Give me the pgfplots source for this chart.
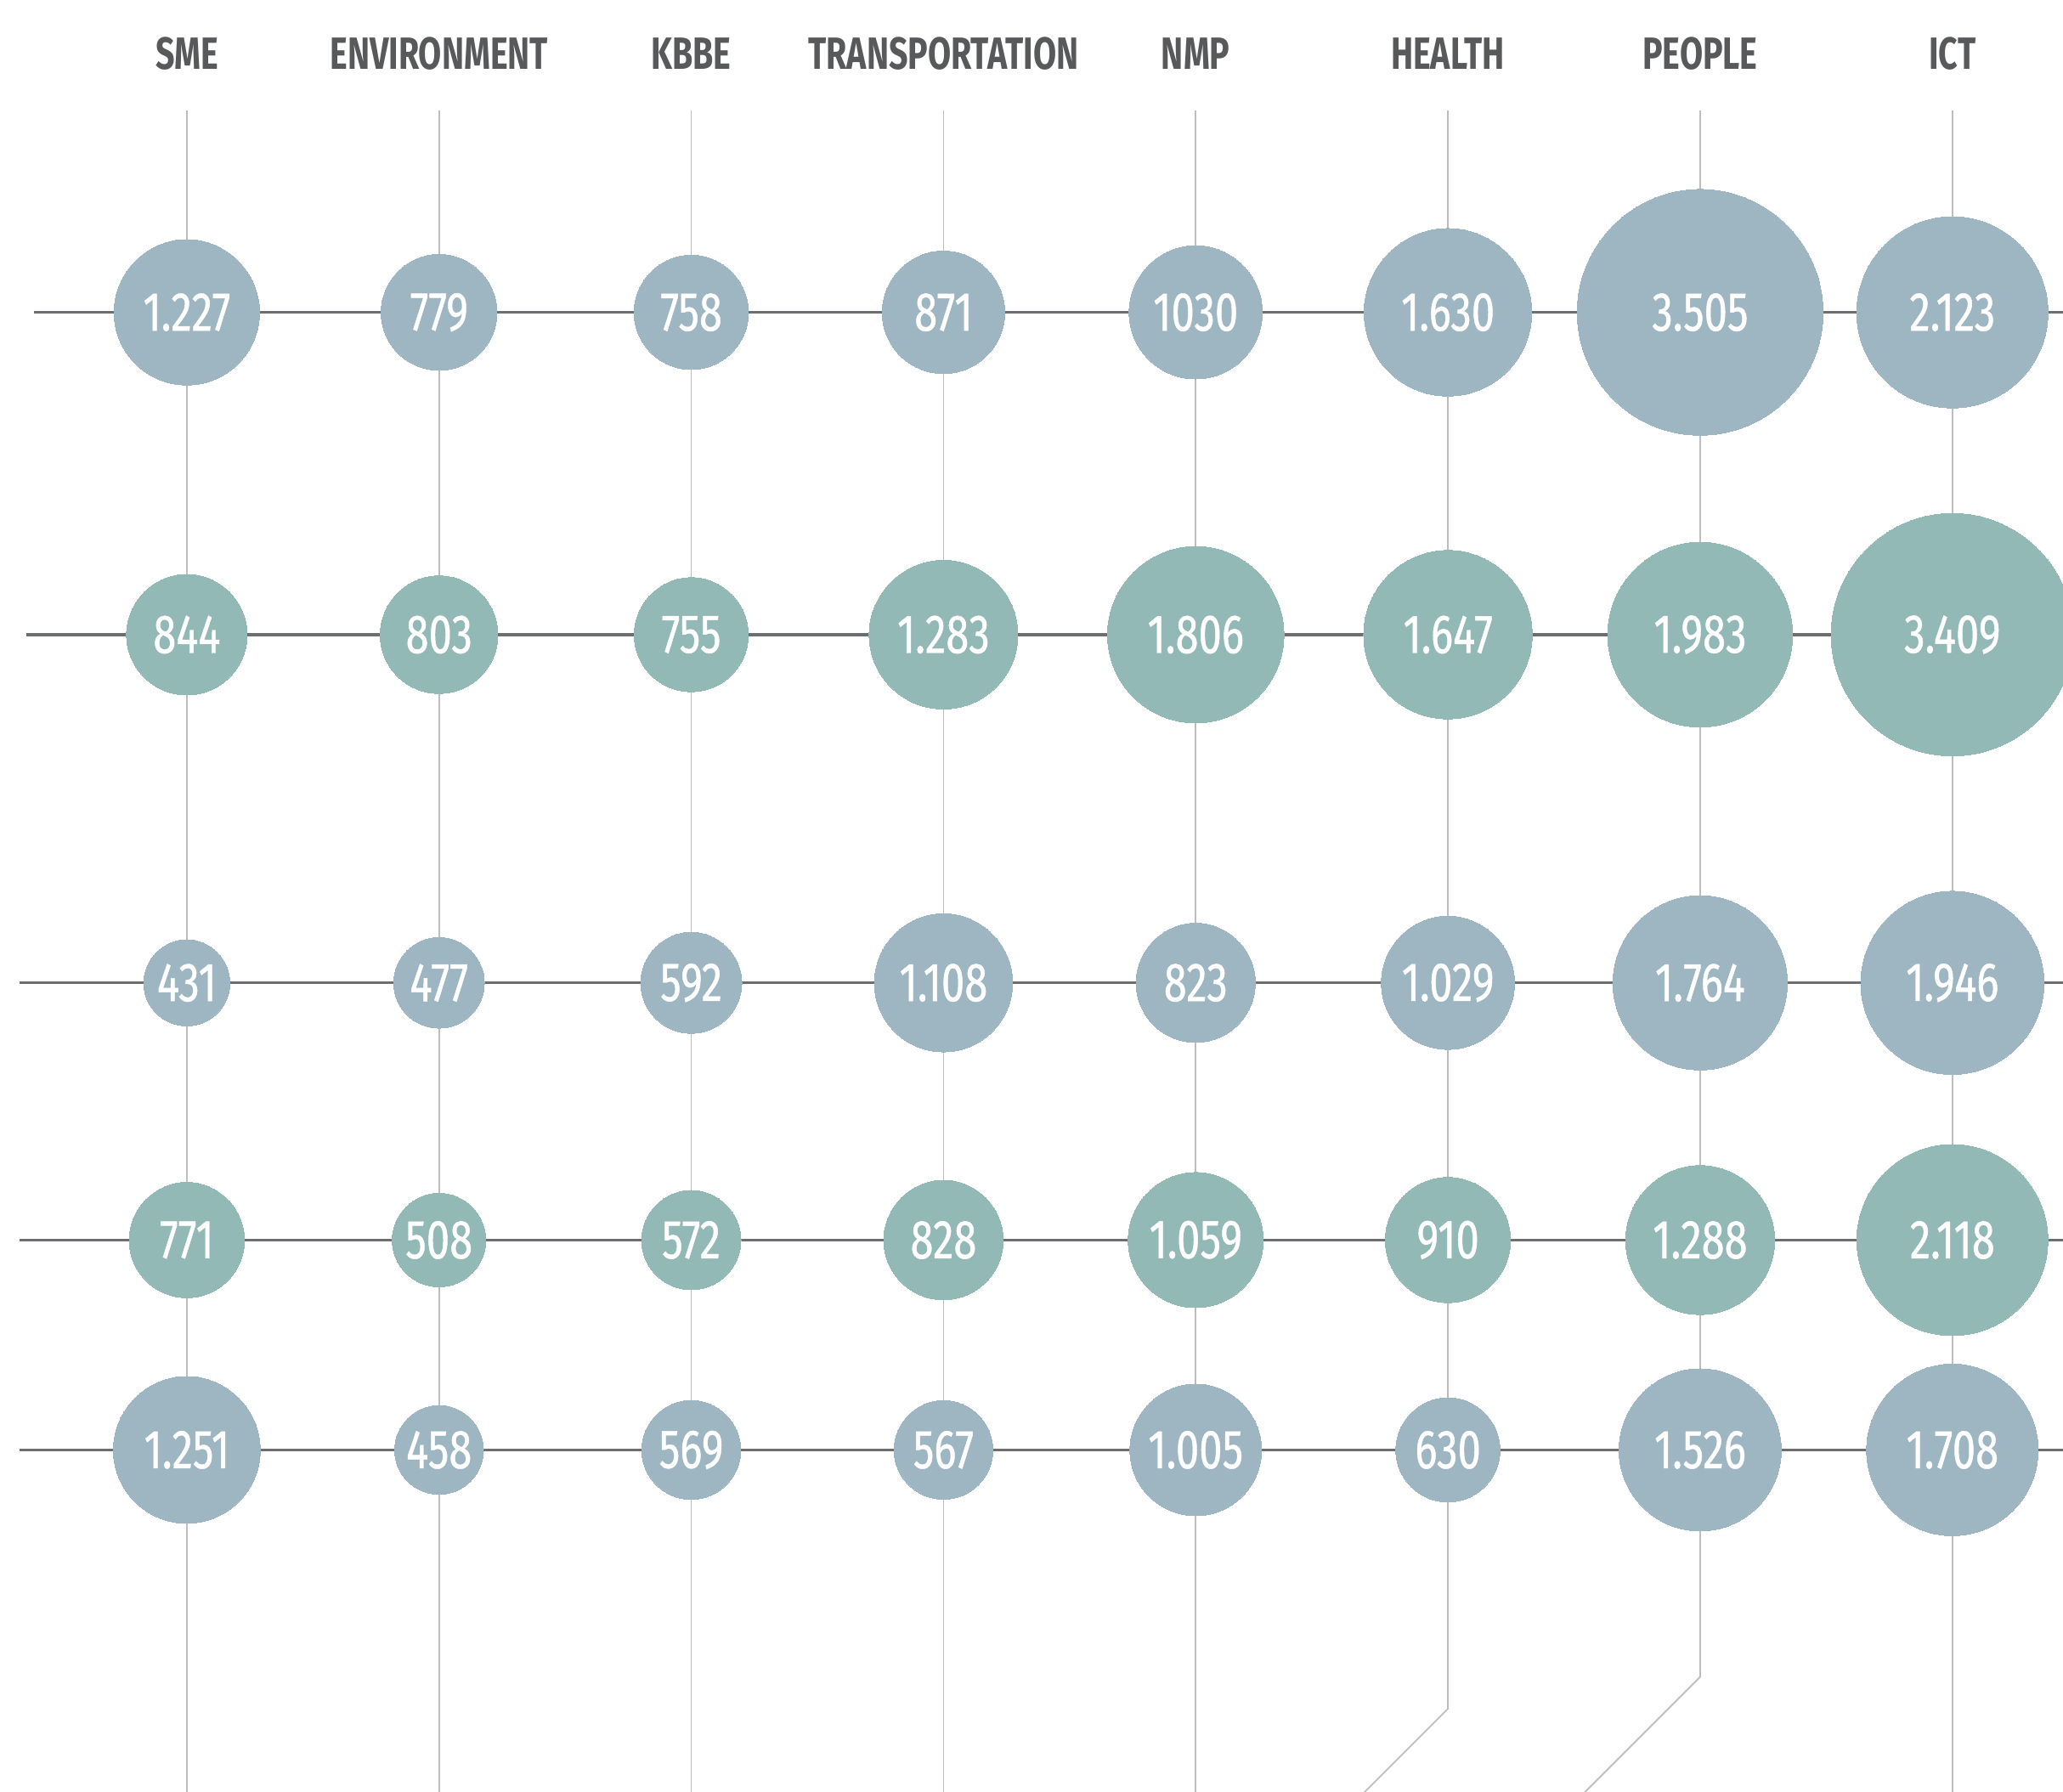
\documentclass[border=0pt]{standalone}
\usepackage{pgfplots}
\pgfplotsset{compat=1.18}
\usepackage{pgfplotstable}
\usepackage{fontspec}
\setmainfont{Fira Sans}
\newfontfamily\numfont{Fira Sans}[FakeStretch=0.76, FakeBold=0.7]
\newfontfamily\hdrfont{Fira Sans}[FakeStretch=0.74]
\definecolor{bubA}{HTML}{9DB6C1}
\definecolor{bubB}{HTML}{93B9B7}
\definecolor{hline}{HTML}{6D6E71}
\definecolor{vline}{HTML}{BCBEC0}
\definecolor{hdr}{HTML}{58595B}

\pgfplotsset{
  vl/.style={draw=vline, line width=0.35pt, mark=none},
  hl/.style={draw=hline, line width=0.65pt, mark=none},
  bubA/.style={only marks, scatter, mark=*, scatter src=explicit,
    scatter/use mapped color={draw=bubA, fill=bubA},
    mark options={draw=bubA, fill=bubA, line width=0pt},
    visualization depends on={\thisrow{v} \as \bubv},
    scatter/@pre marker code/.code={%
      \pgfmathsetmacro\bubr{0.4734*sqrt(\bubv)}%
      \scope[mark size=\bubr pt]},
    scatter/@post marker code/.code={\endscope}},
  bubB/.style={only marks, scatter, mark=*, scatter src=explicit,
    scatter/use mapped color={draw=bubB, fill=bubB},
    mark options={draw=bubB, fill=bubB, line width=0pt},
    visualization depends on={\thisrow{v} \as \bubv},
    scatter/@pre marker code/.code={%
      \pgfmathsetmacro\bubr{0.4734*sqrt(\bubv)}%
      \scope[mark size=\bubr pt]},
    scatter/@post marker code/.code={\endscope}},
  lblstyle/.style={only marks, mark=none, point meta=explicit symbolic,
    nodes near coords,
    nodes near coords style={anchor=center, text=white, inner sep=0pt,
      font=\numfont\fontsize{12.5}{14}\selectfont}},
}
\tikzset{hd/.style={anchor=base, text=hdr, inner sep=0pt,
    font=\hdrfont\bfseries\fontsize{10.3}{12}\selectfont}}

% columns (x in picture units): SME ENVIRONMENT KBBE TRANSPORTATION NMP HEALTH PEOPLE ICT
\pgfplotstableread{
x y v label
142.0 237.4 1227 1.227
333.7 237.4 779 779
525.4 237.4 758 758
717.1 237.4 871 871
908.8 237.4 1030 1030
1100.5 237.4 1630 1.630
1292.2 237.4 3505 3.505
1483.9 237.4 2123 2.123
}\rowA
\pgfplotstableread{
x y v label
142.0 482.4 844 844
333.7 482.4 803 803
525.4 482.4 755 755
717.1 482.4 1283 1.283
908.8 482.4 1806 1.806
1100.5 482.4 1647 1.647
1292.2 482.4 1983 1.983
1483.9 482.4 3409 3.409
}\rowB
\pgfplotstableread{
x y v label
142.0 747.0 431 431
333.7 747.0 477 477
525.4 747.0 592 592
717.1 747.0 1108 1.108
908.8 747.0 823 823
1100.5 747.0 1029 1.029
1292.2 747.0 1764 1.764
1483.9 747.0 1946 1.946
}\rowC
\pgfplotstableread{
x y v label
142.0 942.5 771 771
333.7 942.5 508 508
525.4 942.5 572 572
717.1 942.5 828 828
908.8 942.5 1059 1.059
1100.5 942.5 910 910
1292.2 942.5 1288 1.288
1483.9 942.5 2118 2.118
}\rowD
\pgfplotstableread{
x y v label
142.0 1102.0 1251 1.251
333.7 1102.0 458 458
525.4 1102.0 569 569
717.1 1102.0 567 567
908.8 1102.0 1005 1.005
1100.5 1102.0 630 630
1292.2 1102.0 1526 1.526
1483.9 1102.0 1708 1.708
}\rowE

\begin{document}
\begin{tikzpicture}
\begin{axis}[
  at={(0,0)}, anchor=south west,
  scale only axis, width=470.4pt, height=408.42pt,
  xmin=0, xmax=1568, ymin=0, ymax=1361.4, y dir=reverse,
  hide axis,
]
% vertical guide lines
\addplot[vl] coordinates {(142.0,84) (142.0,1362)};
\addplot[vl] coordinates {(333.7,84) (333.7,1362)};
\addplot[vl] coordinates {(525.4,84) (525.4,1362)};
\addplot[vl] coordinates {(717.1,84) (717.1,1362)};
\addplot[vl] coordinates {(908.8,84) (908.8,1362)};
\addplot[vl] coordinates {(1100.5,84) (1100.5,1298.7) (1036.5,1362.7)};
\addplot[vl] coordinates {(1292.2,84) (1292.2,1274.5) (1204.2,1362.5)};
\addplot[vl] coordinates {(1483.9,84) (1483.9,1362)};
% horizontal row lines
\addplot[hl] coordinates {(26,237.4) (1570,237.4)};
\addplot[hl] coordinates {(20,482.4) (1570,482.4)};
\addplot[hl] coordinates {(15,747.0) (1570,747.0)};
\addplot[hl] coordinates {(15,942.5) (1570,942.5)};
\addplot[hl] coordinates {(15,1102.0) (1570,1102.0)};
% bubbles
\addplot[bubA] table[x=x,y=y,meta=v]{\rowA};
\addplot[bubB] table[x=x,y=y,meta=v]{\rowB};
\addplot[bubA] table[x=x,y=y,meta=v]{\rowC};
\addplot[bubB] table[x=x,y=y,meta=v]{\rowD};
\addplot[bubA] table[x=x,y=y,meta=v]{\rowE};
% value labels
\addplot[lblstyle] table[x=x,y=y,meta=label]{\rowA};
\addplot[lblstyle] table[x=x,y=y,meta=label]{\rowB};
\addplot[lblstyle] table[x=x,y=y,meta=label]{\rowC};
\addplot[lblstyle] table[x=x,y=y,meta=label]{\rowD};
\addplot[lblstyle] table[x=x,y=y,meta=label]{\rowE};
% column headers
\node[hd] at (axis cs:142.0,52.7) {SME};
\node[hd] at (axis cs:333.7,52.7) {ENVIRONMENT};
\node[hd] at (axis cs:525.4,52.7) {KBBE};
\node[hd] at (axis cs:717.1,52.7) {TRANSPORTATION};
\node[hd] at (axis cs:908.8,52.7) {NMP};
\node[hd] at (axis cs:1100.5,52.7) {HEALTH};
\node[hd] at (axis cs:1292.2,52.7) {PEOPLE};
\node[hd] at (axis cs:1483.9,52.7) {ICT};
\end{axis}
\pgfresetboundingbox
\path[use as bounding box] (0,0) rectangle (470.4pt,408.42pt);
\end{tikzpicture}
\end{document}
